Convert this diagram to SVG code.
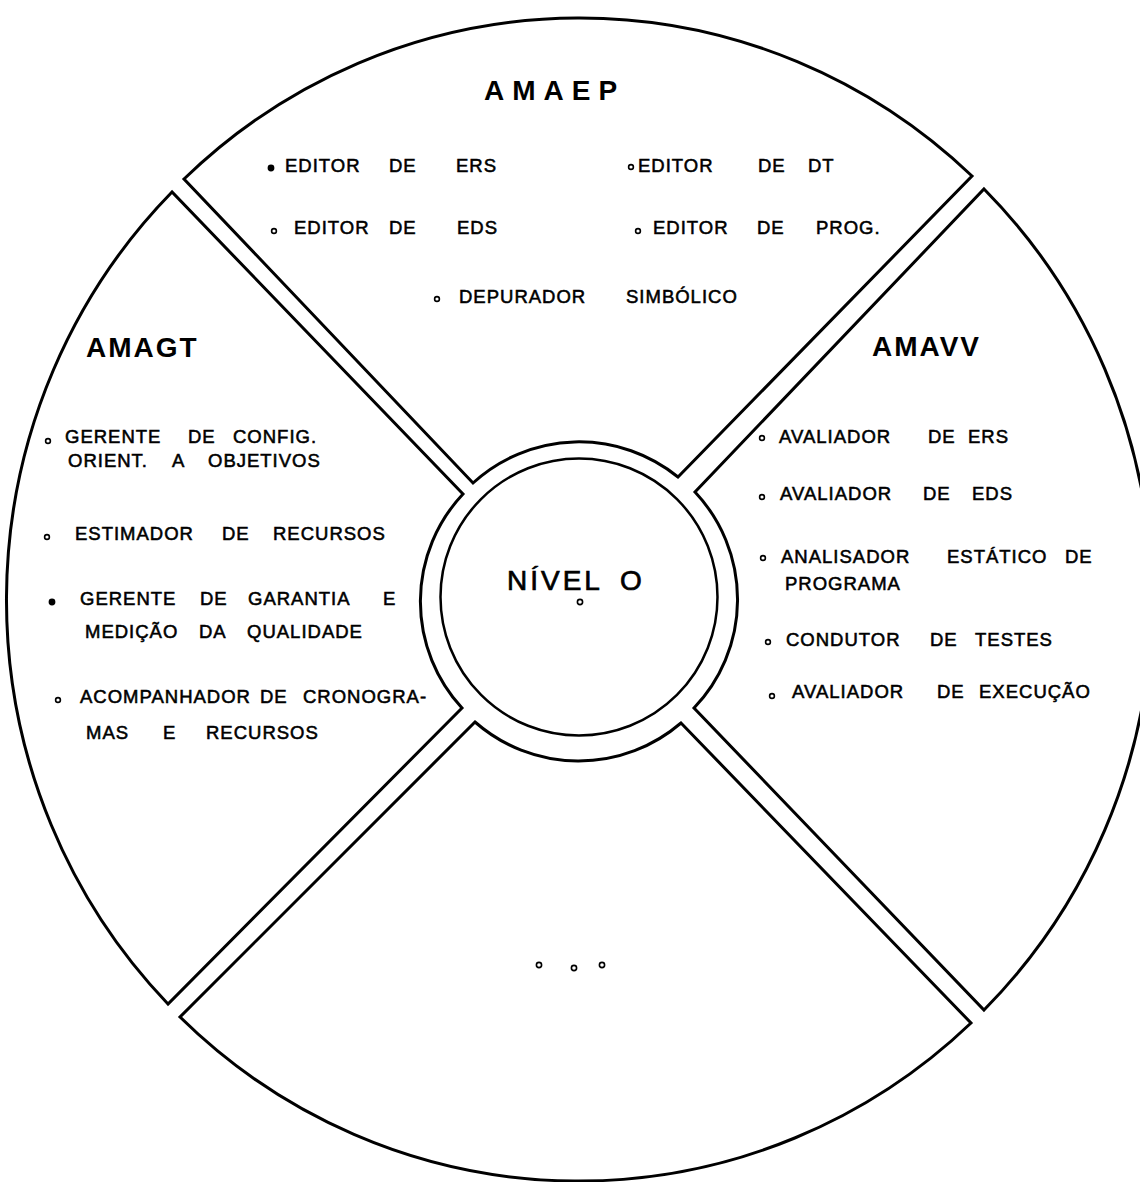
<svg xmlns="http://www.w3.org/2000/svg" width="1140" height="1182" viewBox="0 0 1140 1182">
<style>
.sec{fill:#fff;stroke:#000;stroke-width:3;stroke-linejoin:miter}
.ring{fill:#fff;stroke:#000;stroke-width:2.5}
.t{font-family:"Liberation Sans",Arial,sans-serif;font-size:18.5px;letter-spacing:1px;fill:#000;stroke:#000;stroke-width:0.55}
.h{font-family:"Liberation Sans",Arial,sans-serif;font-size:28px;font-weight:bold;fill:#000}
.c{font-family:"Liberation Sans",Arial,sans-serif;font-size:28px;letter-spacing:3px;fill:#000;stroke:#000;stroke-width:0.7}
.b{fill:#fff;stroke:#000;stroke-width:1.6}
.bf{fill:#000;stroke:#000;stroke-width:1.6}
</style>
<rect width="1140" height="1182" fill="#fff"/>
<g id="connectors"></g>
<g id="amaep">
<path class="sec" d="M184,179 A572,580 0 0 1 972,176 L678,477 A157,157 0 0 0 473,483 Z"/>
<text class="h" x="484" y="100" style="letter-spacing:8px">AMAEP</text>
<circle class="bf" cx="271" cy="168" r="2.6"/>
<text class="t" y="172"><tspan x="285">EDITOR</tspan> <tspan x="389">DE</tspan> <tspan x="456">ERS</tspan></text>
<circle class="b" cx="631" cy="167" r="2.4"/>
<text class="t" y="172"><tspan x="638">EDITOR</tspan> <tspan x="758">DE</tspan> <tspan x="808">DT</tspan></text>
<circle class="b" cx="274" cy="231" r="2.4"/>
<text class="t" y="234"><tspan x="294">EDITOR</tspan> <tspan x="389">DE</tspan> <tspan x="457">EDS</tspan></text>
<circle class="b" cx="638" cy="231" r="2.4"/>
<text class="t" y="234"><tspan x="653">EDITOR</tspan> <tspan x="757">DE</tspan> <tspan x="816">PROG.</tspan></text>
<circle class="b" cx="437" cy="299" r="2.4"/>
<text class="t" y="303"><tspan x="459">DEPURADOR</tspan> <tspan x="626">SIMBÓLICO</tspan></text>
</g>
<g id="amagt">
<path class="sec" d="M168,1004 A572,580 0 0 1 172,192 L463,494 A157,157 0 0 0 462,708 Z"/>
<text class="h" x="86" y="357" style="letter-spacing:2px">AMAGT</text>
<circle class="b" cx="48" cy="441" r="2.4"/>
<text class="t" y="443"><tspan x="65">GERENTE</tspan> <tspan x="188">DE</tspan> <tspan x="233">CONFIG.</tspan></text>
<text class="t" y="467"><tspan x="68">ORIENT.</tspan> <tspan x="172">A</tspan> <tspan x="208">OBJETIVOS</tspan></text>
<circle class="b" cx="47" cy="537" r="2.4"/>
<text class="t" y="540"><tspan x="75">ESTIMADOR</tspan> <tspan x="222">DE</tspan> <tspan x="273">RECURSOS</tspan></text>
<circle class="bf" cx="52" cy="602" r="2.6"/>
<text class="t" y="605"><tspan x="80">GERENTE</tspan> <tspan x="200">DE</tspan> <tspan x="248">GARANTIA</tspan> <tspan x="383">E</tspan></text>
<text class="t" y="638"><tspan x="85">MEDIÇÃO</tspan> <tspan x="199">DA</tspan> <tspan x="247">QUALIDADE</tspan></text>
<circle class="b" cx="58" cy="700" r="2.4"/>
<text class="t" y="703"><tspan x="80">ACOMPANHADOR</tspan> <tspan x="260">DE</tspan> <tspan x="303">CRONOGRA-</tspan></text>
<text class="t" y="739"><tspan x="86">MAS</tspan> <tspan x="163">E</tspan> <tspan x="206">RECURSOS</tspan></text>
</g>
<g id="amavv">
<path class="sec" d="M984,189 A572,580 0 0 1 984,1010 L694,708 A157,157 0 0 0 695,492 Z"/>
<text class="h" x="872" y="356" style="letter-spacing:2px">AMAVV</text>
<circle class="b" cx="762" cy="438" r="2.4"/>
<text class="t" y="443"><tspan x="779">AVALIADOR</tspan> <tspan x="928">DE</tspan> <tspan x="968">ERS</tspan></text>
<circle class="b" cx="762" cy="497" r="2.4"/>
<text class="t" y="500"><tspan x="780">AVALIADOR</tspan> <tspan x="923">DE</tspan> <tspan x="972">EDS</tspan></text>
<circle class="b" cx="763" cy="558" r="2.4"/>
<text class="t" y="563"><tspan x="781">ANALISADOR</tspan> <tspan x="947">ESTÁTICO</tspan> <tspan x="1065">DE</tspan></text>
<text class="t" y="590"><tspan x="785">PROGRAMA</tspan></text>
<circle class="b" cx="768" cy="642" r="2.4"/>
<text class="t" y="646"><tspan x="786">CONDUTOR</tspan> <tspan x="930">DE</tspan> <tspan x="975">TESTES</tspan></text>
<circle class="b" cx="772" cy="696" r="2.4"/>
<text class="t" y="698"><tspan x="792">AVALIADOR</tspan> <tspan x="937">DE</tspan> <tspan x="979">EXECUÇÃO</tspan></text>
</g>
<g id="bottom">
<path class="sec" d="M971,1023 A572,580 0 0 1 180,1017 L475,722 A157,157 0 0 0 681,723 Z"/>
<circle class="b" cx="539" cy="965" r="2.6"/>
<circle class="b" cx="574" cy="968" r="2.6"/>
<circle class="b" cx="602" cy="965" r="2.6"/>
</g>
<g id="nivel0">
<circle class="ring" cx="579" cy="597" r="138.5"/>
<text class="c" y="590"><tspan x="507">NÍVEL</tspan> <tspan x="620">O</tspan></text>
<circle class="b" cx="580" cy="602" r="2.6"/>
</g>
</svg>
